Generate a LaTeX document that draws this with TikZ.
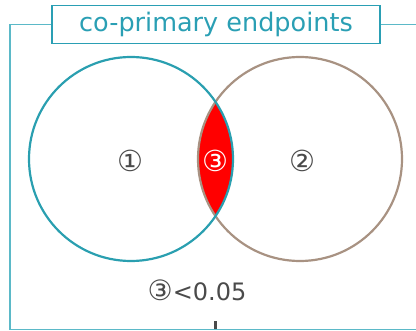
\documentclass[tikz,border=0pt]{standalone}
\usepackage{fontspec}
\setmainfont{DejaVu Sans}
\begin{document}
\begin{tikzpicture}[x=1pt,y=-1pt,
  framecol/.style={draw=frameteal,line width=1.3pt},
  lbl/.style={text=labelgray,font=\fontsize{29}{32}\selectfont},
  circ/.style={circle,minimum size=204pt,inner sep=0pt,line width=2.2pt}]
\definecolor{frameteal}{HTML}{5BB9C8}
\definecolor{titleteal}{HTML}{2A9FB4}
\definecolor{circteal}{HTML}{2A9FB0}
\definecolor{circbrown}{HTML}{A89282}
\definecolor{labelgray}{HTML}{4A4A4A}
\useasboundingbox (0,0) rectangle (416,331);
\coordinate (cl) at (131,159);
\coordinate (cr) at (300,159);
\begin{scope}
\clip (cl) circle (102);
\fill[red] (cr) circle (102);
\end{scope}
\node[circ,draw=circbrown] (right) at (cr) {};
\node[circ,draw=circteal] (left) at (cl) {};
\node[lbl] (one) at (130,161) {①};
\node[lbl] (two) at (302,161) {②};
\node[lbl,text=white] (three) at (215.5,161) {③};
\node[lbl,font=\fontsize{24}{28}\selectfont] (cond) at (197,290) {{\fontsize{28}{28}\selectfont ③}<0.05};
\node[draw=titleteal,line width=1.3pt,minimum width=328pt,minimum height=38pt,inner sep=0pt,text=titleteal,font=\fontsize{25.5}{28}\selectfont] (title) at (216,24.7) {co-primary endpoints};
\coordinate (tl) at (10,24.7);
\coordinate (bl) at (10,329.3);
\coordinate (br) at (417,329.3);
\coordinate (tr) at (417,24.7);
\draw[framecol] (title.west) -- (tl) -- (bl) -- (br);
\draw[framecol] (title.east) -- (tr);
\coordinate (tick) at (215.7,321.5);
\draw[line width=3.5pt,draw=labelgray] (tick) -- (tick |- bl);
\end{tikzpicture}
\end{document}
